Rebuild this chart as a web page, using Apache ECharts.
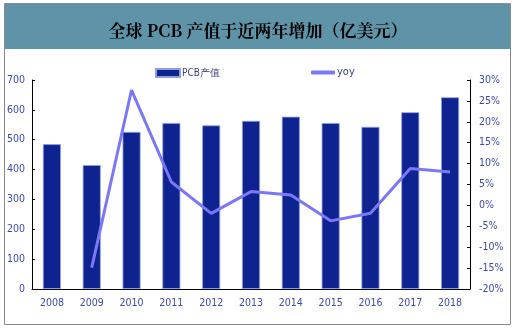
<!DOCTYPE html>
<html>
<head>
<meta charset="utf-8">
<script src="https://cdn.jsdelivr.net/npm/echarts@6/dist/echarts.min.js"></script>
<style>
  html, body { margin: 0; padding: 0; background: #fff; }
  #chart { width: 516px; height: 330px; }
</style>
</head>
<body>
<div id="chart"></div>
<script>
// Global PCB output value (100 million USD) and year-on-year growth
const years = ['2008', '2009', '2010', '2011', '2012', '2013', '2014', '2015', '2016', '2017', '2018'];
const pcbValue = [485, 415, 526, 556, 548, 563, 577, 556, 543, 592, 642];
const yoyGrowth = [null, -14.9, 27.6, 5.6, -1.9, 3.3, 2.5, -3.7, -1.9, 8.8, 8.0];
const leftTicks = { min: 0, max: 700, step: 100 };
const rightTicks = { min: -20, max: 30, step: 5 };

const labelFont = '"DejaVu Sans Condensed", "Liberation Sans Narrow", "Liberation Sans", sans-serif';
const labelColor = '#3c4aa8';

const chart = echarts.init(document.getElementById('chart'), null, { renderer: 'canvas' });

chart.setOption({
  backgroundColor: '#ffffff',
  animation: false,
  graphic: [
    {
      type: 'rect',
      shape: { x: 4.5, y: 3.5, width: 506, height: 321 },
      style: { fill: 'none', stroke: '#8a8a8a', lineWidth: 1 },
      z: 0
    },
    {
      type: 'rect',
      shape: { x: 5, y: 4, width: 505, height: 45 },
      style: { fill: '#5f93a8' },
      z: 0
    }
  ],
  title: {
    text: '全球 PCB 产值于近两年增加（亿美元）',
    left: 'center',
    top: 17,
    textStyle: {
      fontFamily: '"Noto Serif CJK SC", "Noto Sans CJK SC", serif',
      fontWeight: 'bold',
      fontSize: 17,
      color: '#000'
    }
  },
  legend: [
    {
      data: ['PCB产值'],
      left: 150,
      top: 63,
      icon: 'rect',
      itemWidth: 24,
      itemHeight: 8,
      itemGap: 2,
      textStyle: { fontFamily: labelFont, fontSize: 10, color: '#3a3f7a', padding: [0, 0, 0, -3] }
    },
    {
      data: ['yoy'],
      left: 306,
      top: 62,
      icon: 'roundRect',
      itemWidth: 24,
      itemHeight: 4,
      textStyle: { fontFamily: labelFont, fontSize: 11, color: '#3a3f7a', padding: [0, 0, 0, -3] }
    }
  ],
  grid: { left: 32, right: 46, top: 80, bottom: 41, containLabel: false },
  xAxis: {
    type: 'category',
    data: years,
    boundaryGap: true,
    axisLine: { lineStyle: { color: '#000', width: 1 } },
    axisTick: { inside: true, length: 3, lineStyle: { color: '#000' } },
    axisLabel: { fontFamily: labelFont, fontSize: 10.5, color: labelColor, margin: 9 }
  },
  yAxis: [
    {
      type: 'value',
      min: leftTicks.min,
      max: leftTicks.max,
      interval: leftTicks.step,
      axisLine: { show: true, lineStyle: { color: '#000', width: 1 } },
      axisTick: { show: true, inside: true, length: 3, lineStyle: { color: '#000' } },
      splitLine: { show: false },
      axisLabel: { fontFamily: labelFont, fontSize: 10.5, color: labelColor, margin: 7 }
    },
    {
      type: 'value',
      position: 'right',
      min: rightTicks.min,
      max: rightTicks.max,
      interval: rightTicks.step,
      axisLine: { show: true, lineStyle: { color: '#000', width: 1 } },
      axisTick: { show: true, inside: true, length: 3, lineStyle: { color: '#000' } },
      splitLine: { show: false },
      axisLabel: { fontFamily: labelFont, fontSize: 10.5, color: labelColor, margin: 9, formatter: '{value}%' }
    }
  ],
  series: [
    {
      name: 'PCB产值',
      type: 'bar',
      data: pcbValue,
      barWidth: 18,
      itemStyle: { color: '#0e2290', borderColor: '#8f9fdc', borderWidth: 0.8 }
    },
    {
      name: 'yoy',
      type: 'line',
      yAxisIndex: 1,
      data: yoyGrowth,
      showSymbol: false,
      symbol: 'none',
      connectNulls: false,
      lineStyle: { color: '#7b78f6', width: 3 },
      itemStyle: { color: '#7b78f6' }
    }
  ]
});
</script>
</body>
</html>
